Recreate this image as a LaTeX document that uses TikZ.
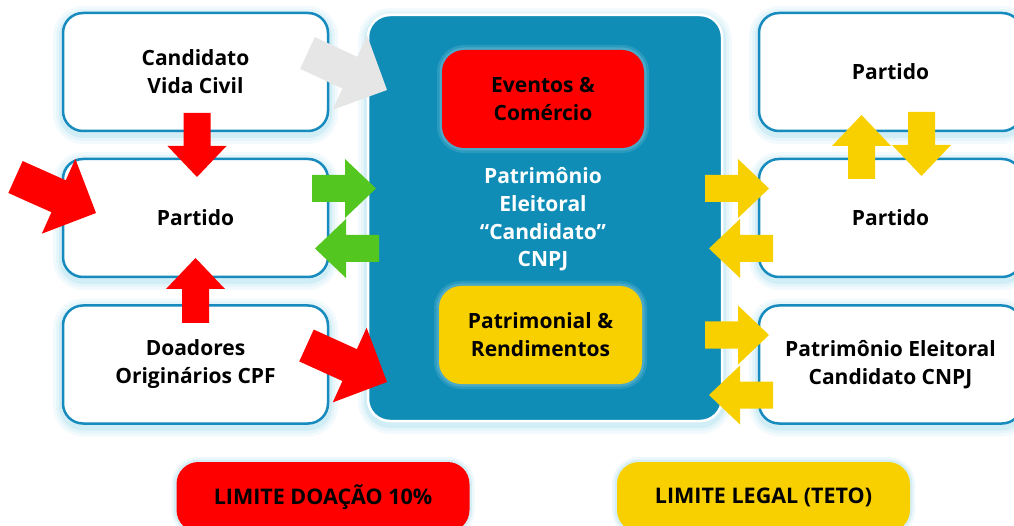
\documentclass[tikz,border=0pt]{standalone}
\usepackage{fontspec}
\setmainfont{Open Sans}
\usetikzlibrary{calc}
\definecolor{boxblue}{RGB}{23,138,190}
\definecolor{coreblue}{RGB}{15,141,183}
\definecolor{myred}{RGB}{255,0,0}
\definecolor{myyellow}{RGB}{248,208,0}
\definecolor{mygreen}{RGB}{84,198,32}
\definecolor{mygray}{RGB}{230,230,230}
\definecolor{glow}{RGB}{140,210,232}
\newcommand\blockarrow[6]{%
 \fill[#1] ($(#2)!#4!90:(#3)$) -- ($(#3)!#6!(#2)!#4!90:(#3)$) -- ($(#3)!#6!(#2)!#5!90:(#3)$) -- (#3) -- ($(#3)!#6!(#2)!#5!-90:(#3)$) -- ($(#3)!#6!(#2)!#4!-90:(#3)$) -- ($(#2)!#4!-90:(#3)$) -- cycle;}
\newcommand\straightarrow[3]{\blockarrow{#1}{#2}{#3}{13.5pt}{29.5pt}{31pt}}
\newcommand\diagarrow[3]{\blockarrow{#1}{#2}{#3}{17.5pt}{41pt}{41pt}}
\tikzset{
 glowshadow/.style={
   preaction={draw=glow, line width=20pt, draw opacity=0.10, transform canvas={yshift=-3pt}},
   preaction={draw=glow, line width=14pt, draw opacity=0.14, transform canvas={yshift=-3pt}},
   preaction={draw=glow, line width=8pt, draw opacity=0.22, transform canvas={yshift=-3pt}}},
 wbox/.style={draw=boxblue, line width=2.5pt, fill=white, rounded corners=20pt,
   minimum width=265pt, minimum height=118pt, align=center, inner sep=0pt,
   font=\fontsize{21}{28}\selectfont\bfseries, glowshadow},
 corebox/.style={draw=white, line width=2.5pt, fill=coreblue, rounded corners=22pt,
   minimum width=354pt, minimum height=406pt, inner sep=0pt, glowshadow},
 innerbox/.style={rounded corners=22pt, minimum width=202pt, minimum height=98pt,
   align=center, inner sep=0pt, font=\fontsize{21}{28}\selectfont\bfseries,
   preaction={draw=glow!50!white, line width=10pt, draw opacity=0.15},
   preaction={draw=glow!50!white, line width=5pt, draw opacity=0.2}},
 limitbox/.style={rounded corners=22pt, minimum width=293pt, minimum height=70pt,
   inner sep=0pt, font=\fontsize{21.5}{26}\selectfont\bfseries,
   preaction={draw=glow, line width=10pt, draw opacity=0.15},
   preaction={draw=glow, line width=5pt, draw opacity=0.25}}
}
\begin{document}
\begin{tikzpicture}[x=1pt,y=-1pt]
\useasboundingbox (0,0) rectangle (1014,526);
\clip (0,0) rectangle (1014,526);
% left column
\node[wbox] (cand) at (195.5,72) {Candidato\\Vida Civil};
\node[wbox] (partL) at (195.5,218) {Partido};
\node[wbox] (doad) at (195.5,364.5) {Doadores\\Originários CPF};
% right column
\node[wbox, minimum width=263pt] (partR1) at (890.5,72) {Partido};
\node[wbox, minimum width=263pt] (partR2) at (890.5,218) {Partido};
\node[wbox, minimum width=263pt] (patR) at (890.5,364.5) {Patrimônio Eleitoral\\Candidato CNPJ};
% central
\node[corebox] (core) at (545,218) {};
\node[innerbox, fill=myred] (event) at (543,99) {Eventos \&\\Comércio};
\node[innerbox, fill=myyellow, minimum width=203pt] (patrim) at (540.5,335) {Patrimonial \&\\Rendimentos};
\node[text=white, align=center, font=\fontsize{21}{27.7}\selectfont\bfseries] (coretxt) at (543,219.5) {Patrimônio\\Eleitoral\\“Candidato”\\CNPJ};
% bottom limits
\node[limitbox, fill=myred] (limD) at (323,497) {LIMITE DOAÇÃO 10\%};
\node[limitbox, fill=myyellow] (limL) at (763.5,497) {LIMITE LEGAL (TETO)};
% arrow coordinates
\coordinate (rdA) at (197,113);   \coordinate (rdB) at (197,177);
\coordinate (ruA) at (195.5,323); \coordinate (ruB) at (195.5,258);
\coordinate (grA) at (312,188.5); \coordinate (grB) at (376,188.5);
\coordinate (glA) at (379,248.5); \coordinate (glB) at (315,248.5);
\coordinate (yr1A) at (705,188.5); \coordinate (yr1B) at (769,188.5);
\coordinate (yl1A) at (773,248.5); \coordinate (yl1B) at (709,248.5);
\coordinate (yuA) at (861.5,179); \coordinate (yuB) at (861.5,115);
\coordinate (ydA) at (921.5,112); \coordinate (ydB) at (921.5,176);
\coordinate (yr2A) at (705,335); \coordinate (yr2B) at (769,335);
\coordinate (yl2A) at (773,395); \coordinate (yl2B) at (709,395);
\coordinate (dlA) at (15.5,177); \coordinate (dlB) at (96,213);
\coordinate (dgA) at (307.5,53); \coordinate (dgB) at (387,90);
\coordinate (ddA) at (306.5,345.5); \coordinate (ddB) at (387,382);
% arrows
\straightarrow{myred}{rdA}{rdB}
\straightarrow{myred}{ruA}{ruB}
\straightarrow{mygreen}{grA}{grB}
\straightarrow{mygreen}{glA}{glB}
\straightarrow{myyellow}{yr1A}{yr1B}
\straightarrow{myyellow}{yl1A}{yl1B}
\straightarrow{myyellow}{yuA}{yuB}
\straightarrow{myyellow}{ydA}{ydB}
\straightarrow{myyellow}{yr2A}{yr2B}
\straightarrow{myyellow}{yl2A}{yl2B}
\diagarrow{myred}{dlA}{dlB}
\diagarrow{mygray}{dgA}{dgB}
\diagarrow{myred}{ddA}{ddB}
\end{tikzpicture}
\end{document}
